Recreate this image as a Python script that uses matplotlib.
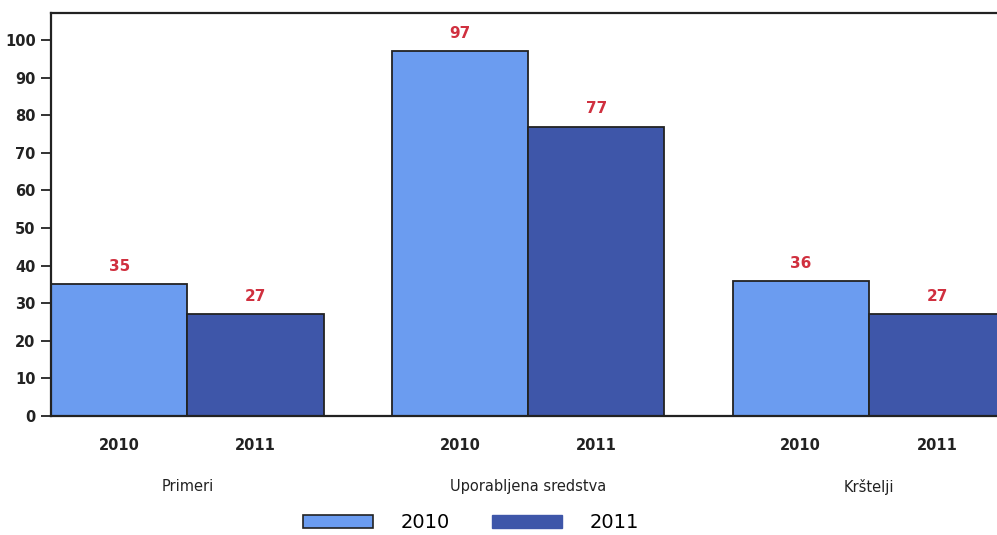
import matplotlib.pyplot as plt
import numpy as np
from matplotlib.patches import Patch

# data
groups = ["Primeri", "Uporabljena sredstva", "Krštelji"]
years = ["2010", "2011"]
vals_2010 = [35, 97, 36]
vals_2011 = [27, 77, 27]

c2010 = "#6b9cf0"
c2011 = "#3e56a9"
red = "#d0303f"

fig = plt.figure(figsize=(9.97, 5.35), dpi=100)
ax = fig.add_axes([51 / 997, 119 / 535, 1 - 51 / 997, 403 / 535])

step = 2.5
x = np.arange(len(groups)) * step + 1.0
b1 = ax.bar(x - 0.5, vals_2010, width=1.0, color=c2010, edgecolor="#222222", linewidth=1.3)
b2 = ax.bar(x + 0.5, vals_2011, width=1.0, color=c2011, edgecolor="#222222", linewidth=1.3)

for bars in (b1, b2):
    for r in bars:
        ax.text(r.get_x() + r.get_width() / 2, r.get_height() + 2.7, str(int(r.get_height())),
                ha="center", va="bottom", color=red, fontsize=11, fontweight="bold")

ax.set_xlim(0, 6.94)
ax.set_ylim(0, 107.2)
ax.set_yticks(range(0, 101, 10))
ax.tick_params(axis="y", direction="out", length=7, width=1.3, labelsize=10.5, pad=4, colors="#222222")
for t in ax.get_yticklabels():
    t.set_fontweight("bold")

xt = np.concatenate([x - 0.5, x + 0.5])
ax.set_xticks(xt)
ax.set_xticklabels([years[0]] * len(groups) + [years[1]] * len(groups), fontsize=10.5,
                   fontweight="bold", color="#222222")
ax.tick_params(axis="x", length=0, pad=16)

for gx, name in zip(x, groups):
    ax.text(gx, -0.175, name, transform=ax.get_xaxis_transform(), ha="center", va="center",
            fontsize=10.5, color="#222222")

for s in ["left", "top", "bottom"]:
    ax.spines[s].set_linewidth(1.6)
    ax.spines[s].set_color("#222222")
ax.spines["right"].set_visible(False)

handles = [Patch(facecolor=c2010, edgecolor="#222222", linewidth=1.2),
           Patch(facecolor=c2011, edgecolor=c2011)]
fig.legend(handles, years, loc="center", bbox_to_anchor=(471 / 997, 1 - 523 / 535), ncol=2,
           frameon=False, fontsize=14, handlelength=3.6, handleheight=0.6, columnspacing=2.2,
           handletextpad=1.4)

fig.savefig("out.png", dpi=100)
